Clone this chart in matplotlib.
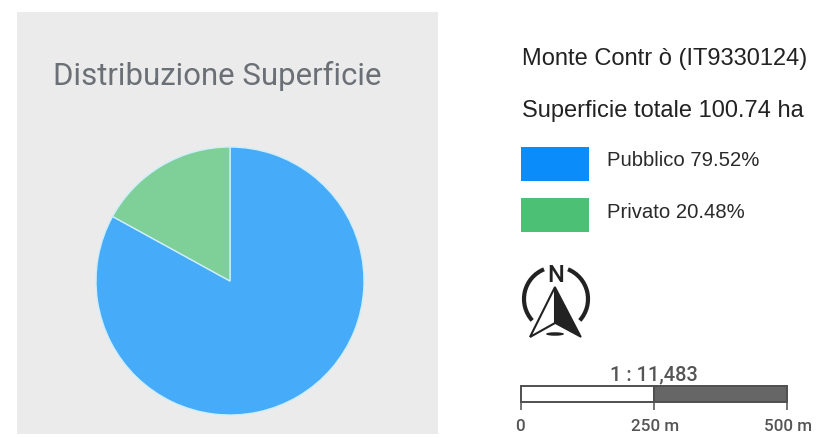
import matplotlib
matplotlib.use("Agg")
import matplotlib.pyplot as plt
from matplotlib.patches import Rectangle, Polygon, Arc, Ellipse

W, H = 819, 439
pie_labels = ["Pubblico", "Privato"]
pie_values = [83.0, 17.0]
pie_colors = ["#46abf8", "#7ecf98"]
legend_colors = ["#0a8cfb", "#4cc176"]
legend_texts = ["Pubblico 79.52%", "Privato 20.48%"]
chart_title = "Distribuzione Superficie"
site_name = "Monte Contr ò (IT9330124)"
site_area = "Superficie totale 100.74 ha"
scale_text = "1 : 11,483"
scale_ticks = [0, 250, 500]
scale_labels = ["0", "250 m", "500 m"]

fig = plt.figure(figsize=(W / 100, H / 100), dpi=100)
ax = fig.add_axes([0, 0, 1, 1])
Y = lambda y: H - y

ax.add_patch(Rectangle((17, Y(434)), 421, 422, fc="#ebebeb", ec="none", zorder=0))
ax.pie(pie_values, colors=pie_colors, startangle=90, counterclock=False,
       center=(230, Y(281)), radius=134, frame=True,
       wedgeprops=dict(edgecolor="#cdeefc", linewidth=1.0))
ax.set_xlim(0, W)
ax.set_ylim(1, H + 1)
ax.set_aspect("equal")
ax.axis("off")

ax.text(53, Y(75), chart_title, family="Roboto", fontsize=22.4, color="#6b6f76",
        va="center", ha="left")

sans = "Liberation Sans"
ax.text(522, Y(58), site_name, family=sans, fontsize=17, color="#222222", va="center")
ax.text(522, Y(110), site_area, family=sans, fontsize=17, color="#222222", va="center")
for i, (c, t) in enumerate(zip(legend_colors, legend_texts)):
    top = [147, 198][i]
    ax.add_patch(Rectangle((521, Y(top + 34)), 68, 34, fc=c, ec="none"))
    ax.text(607, Y([159, 211][i]), t, family=sans, fontsize=14.6, color="#2a2a2a", va="center")

# North arrow
dark = "#222222"
ax.text(556, Y(274), "N", family="Roboto", fontsize=17, weight="medium", color=dark,
        ha="center", va="center")
ax.add_patch(Arc((556, Y(299)), 64, 64, theta1=112, theta2=222, ec=dark, lw=3.0))
ax.add_patch(Arc((556, Y(299)), 64, 64, theta1=-42, theta2=68, ec=dark, lw=3.0))
ax.add_patch(Polygon([(555, Y(287)), (530, Y(337)), (555, Y(323))], closed=True,
                     fc="white", ec=dark, lw=1.5, joinstyle="miter"))
ax.add_patch(Polygon([(555, Y(287)), (581, Y(337)), (555, Y(323))], closed=True,
                     fc=dark, ec=dark, lw=1.2, joinstyle="miter"))
ax.add_patch(Ellipse((555, Y(334)), 18, 3.5, fc=dark, ec="none"))

# Scale bar
sx = lambda v: 521 + v * (787 - 521) / scale_ticks[-1]
bar = "#4f4f4f"
ax.add_patch(Rectangle((sx(0), Y(402)), sx(250) - sx(0), 16, fc="white", ec=bar, lw=1.4))
ax.add_patch(Rectangle((sx(250), Y(402)), sx(500) - sx(250), 16, fc="#666666", ec=bar, lw=1.4))
for v, lab in zip(scale_ticks, scale_labels):
    ax.plot([sx(v), sx(v)], [Y(402), Y(410)], color=bar, lw=1.1, solid_capstyle="butt")
    ax.text(sx(v) + (-1 if v == 0 else 1), Y(426), lab, family="Roboto", fontsize=12.3,
            weight="medium", color="#555555", ha="center", va="center")
ax.text(654, Y(374), scale_text, family="Roboto", fontsize=14.4, weight="medium",
        color="#555555", ha="center", va="center")

fig.savefig("out.png", dpi=100, facecolor="white")
